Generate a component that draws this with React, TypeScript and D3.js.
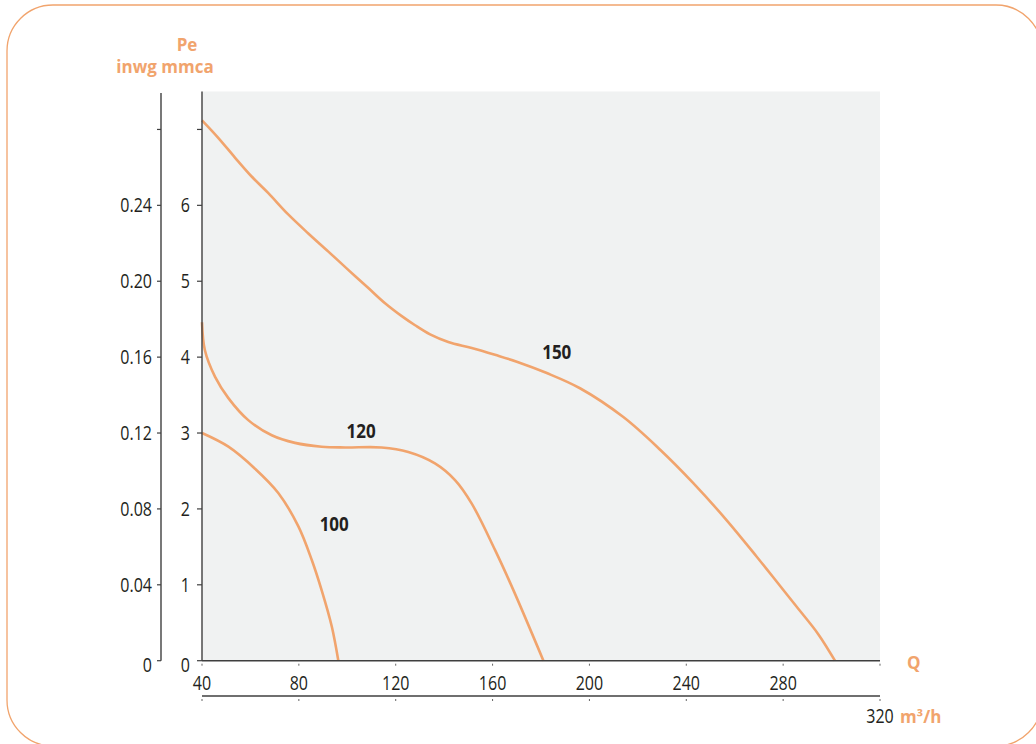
import React from "react";
import * as d3 from "d3";

// ---- data (Q in m3/h, Pe in mmca) ----
const curve150Q = [40, 46.7, 53.6, 60.5, 67.4, 75.6, 83.9, 92.2, 100.4, 108.7, 115.6, 122.5, 128.0, 134.2, 141.7, 151.4, 161.0, 170.0, 182.4, 196.1, 214.0, 229.2, 242.9, 256.7, 269.1, 275.9, 285.6, 294.5, 301.4];
const curve150P = [7.12, 6.89, 6.63, 6.38, 6.16, 5.88, 5.63, 5.39, 5.15, 4.91, 4.71, 4.54, 4.42, 4.3, 4.2, 4.12, 4.03, 3.94, 3.79, 3.59, 3.21, 2.78, 2.34, 1.85, 1.37, 1.1, 0.71, 0.35, 0];
const curve120Q = [40, 41.2, 45.4, 50.9, 59.1, 68.8, 78.4, 89.4, 99.1, 114.2, 125.2, 136.2, 144.5, 151.4, 161.0, 168.6, 181.0];
const curve120P = [4.46, 4.09, 3.74, 3.46, 3.17, 2.97, 2.87, 2.82, 2.81, 2.81, 2.75, 2.6, 2.38, 2.07, 1.46, 0.93, 0];
const curve100Q = [40, 50.9, 61.9, 71.5, 79.8, 85.3, 89.4, 93.6, 96.3];
const curve100P = [3.0, 2.82, 2.53, 2.21, 1.77, 1.33, 0.93, 0.45, 0];

const curveNames = ["150", "120", "100"];
const labelQ = [186.5, 105.7, 94.6];
const labelP = [4.07, 3.03, 1.8];

const xTicks = [40, 80, 120, 160, 200, 240, 280, 320];
const xTickLabels = ["40", "80", "120", "160", "200", "240", "280", "320"];
const mmcaTicks = [0, 1, 2, 3, 4, 5, 6, 7];
const mmcaLabels = ["0", "1", "2", "3", "4", "5", "6", ""];
const inwgTicks = [0, 0.04, 0.08, 0.12, 0.16, 0.2, 0.24, 0.28];
const inwgLabels = ["0", "0.04", "0.08", "0.12", "0.16", "0.20", "0.24", ""];

const ORANGE = "#F1A46D";
const TEXT = "#231F20";
const AXIS = "#3F3F3F";
const FONT = "'Open Sans', 'Noto Sans', sans-serif";
const SX = 0.8;

const CT = ({ x, y, anchor = "middle", size = 20, weight = 400, fill = TEXT, sx = SX, children }: any) => (
  <text
    transform={`translate(${x},${y}) scale(${sx},1)`}
    textAnchor={anchor}
    fontSize={size}
    fontWeight={weight}
    fill={fill}
    fontFamily={FONT}
  >
    {children}
  </text>
);

export default function App() {
  const W = 1036;
  const H = 744;
  const x = d3.scaleLinear().domain([40, 320]).range([202, 880]);
  const y = d3.scaleLinear().domain([0, 7.5]).range([660.7, 91.5]);
  const yIn = d3.scaleLinear().domain([0, 0.3]).range([660.7, 91.5]);

  const line = d3
    .line<[number, number]>()
    .x((d) => x(d[0]))
    .y((d) => y(d[1]))
    .curve(d3.curveCatmullRom.alpha(0.5));

  const series = [
    d3.zip(curve150Q, curve150P) as [number, number][],
    d3.zip(curve120Q, curve120P) as [number, number][],
    d3.zip(curve100Q, curve100P) as [number, number][],
  ];

  const innerX = x(40);
  const outerX = 161;
  const axis2Y = 696;

  return (
    <svg
      width={W}
      height={H}
      style={{ position: "absolute", left: 0, top: 0, display: "block" }}
      xmlns="http://www.w3.org/2000/svg"
    >
      <rect x={0} y={0} width={W} height={H} fill="#fff" />
      <rect x={7} y={5} width={1035} height={741} rx={46} ry={46} fill="none" stroke={ORANGE} strokeWidth={1.3} />

      {/* plot background */}
      <rect x={x(40)} y={y(7.5)} width={x(320) - x(40)} height={y(0) - y(7.5)} fill="#F0F2F2" />

      {/* curves */}
      {series.map((s, i) => (
        <path key={i} d={line(s) || ""} fill="none" stroke={ORANGE} strokeWidth={2.6} strokeLinejoin="round" />
      ))}

      {/* curve labels */}
      {curveNames.map((n, i) => (
        <CT key={n} x={x(labelQ[i])} y={y(labelP[i]) + 7} size={20} weight={700} sx={0.85}>
          {n}
        </CT>
      ))}

      {/* inner y axis (mmca) */}
      <line x1={innerX} x2={innerX} y1={y(7.5)} y2={y(0)} stroke={AXIS} strokeWidth={1.4} />
      {mmcaTicks.map((t, i) => (
        <g key={"m" + t}>
          <line x1={innerX - 5} x2={innerX} y1={y(t)} y2={y(t)} stroke={AXIS} strokeWidth={1.2} />
          <CT x={innerX - 12} y={y(t) + (t === 0 ? 11 : 7)} anchor="end">
            {mmcaLabels[i]}
          </CT>
        </g>
      ))}

      {/* outer y axis (inwg) */}
      <line x1={outerX} x2={outerX} y1={93} y2={yIn(0)} stroke={AXIS} strokeWidth={1.4} />
      {inwgTicks.map((t, i) => (
        <g key={"i" + t}>
          <line x1={outerX - 4} x2={outerX} y1={yIn(t)} y2={yIn(t)} stroke={AXIS} strokeWidth={1.2} />
          <CT x={outerX - 9} y={yIn(t) + (t === 0 ? 11 : 7)} anchor="end">
            {inwgLabels[i]}
          </CT>
        </g>
      ))}

      {/* x axis 1 */}
      <line x1={x(40)} x2={x(320)} y1={y(0)} y2={y(0)} stroke={AXIS} strokeWidth={1.5} />
      {xTicks.map((t) => (
        <line key={"xt" + t} x1={x(t)} x2={x(t)} y1={y(0) + 3} y2={y(0) + 5} stroke="#666" strokeWidth={1} />
      ))}
      {xTicks.slice(0, -1).map((t, i) => (
        <CT key={"xl" + t} x={x(t)} y={690}>
          {xTickLabels[i]}
        </CT>
      ))}

      {/* x axis 2 */}
      <line x1={x(40)} x2={x(320)} y1={axis2Y} y2={axis2Y} stroke={AXIS} strokeWidth={1.5} />
      {xTicks.map((t) => (
        <line key={"xt2" + t} x1={x(t)} x2={x(t)} y1={axis2Y + 3} y2={axis2Y + 5} stroke="#666" strokeWidth={1} />
      ))}
      <CT x={x(320)} y={723}>
        {xTickLabels[xTickLabels.length - 1]}
      </CT>
      <text x={900} y={723} fontSize={17} fontWeight={700} fill={ORANGE} fontFamily={FONT}>
        m³/h
      </text>
      <text x={907} y={669} fontSize={17} fontWeight={700} fill={ORANGE} fontFamily={FONT}>
        Q
      </text>

      {/* y titles */}
      <text x={187} y={51} textAnchor="middle" fontSize={17} fontWeight={700} fill={ORANGE} fontFamily={FONT}>
        Pe
      </text>
      <text x={165} y={73} textAnchor="middle" fontSize={17} fontWeight={700} fill={ORANGE} fontFamily={FONT}>
        inwg mmca
      </text>
    </svg>
  );
}
